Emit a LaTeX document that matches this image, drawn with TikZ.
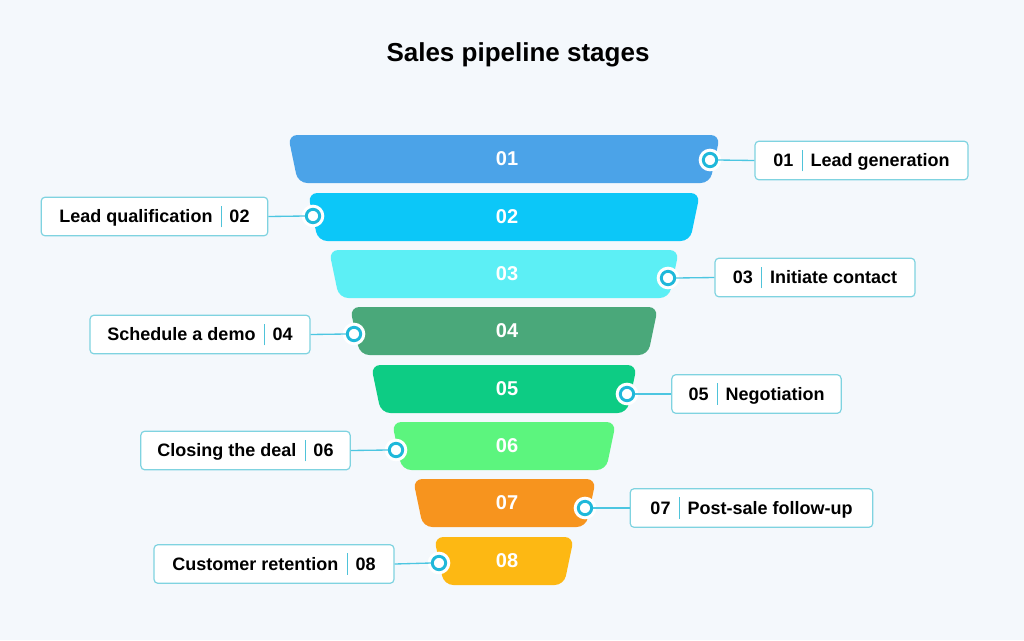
\documentclass[tikz,border=0pt]{standalone}
\usepackage{fontspec}
\setmainfont{Liberation Sans}
\begin{document}
\definecolor{bg}{HTML}{F4F8FC}
\definecolor{ring}{HTML}{1FB8DA}
\definecolor{edge}{HTML}{7FD3E0}
\definecolor{sepc}{HTML}{4FC3D9}
\newcommand{\sepbar}{\hspace{0.45em}{\color{sepc}\rule[-0.25em]{0.6pt}{1.2em}}\hspace{0.45em}}
\begin{tikzpicture}[x=0.75pt,y=-0.75pt,
  stage/.style={rounded corners=7pt},
  num/.style={text=white,font=\bfseries\fontsize{15}{18}\selectfont},
  lab/.style={draw=edge,line width=0.9pt,fill=white,rounded corners=3pt,inner sep=0pt,font=\bfseries\fontsize{13.5}{16}\selectfont},
  link/.style={draw=ring!80,line width=1pt},
  dot/.style={circle,draw=ring,fill=white,line width=2.2pt,minimum size=10pt,inner sep=0pt}]
\fill[bg] (0,0) rectangle (1024,640);
\useasboundingbox (0,0) rectangle (1024,640);
\node (title) at (518,55) {\bfseries\fontsize{19.5}{24}\selectfont Sales pipeline stages};
% stages: ytop, left top, right top, color, number
\foreach \i/\yt/\lt/\rt/\c in {1/135/288/720/4BA3E8,2/193/308/700/0CC7F8,3/250/329/679/5CEFF5,4/307/350/658/4AA87A,5/365/371/637/0DCC84,6/422/392/616/5CF57E,7/479/413/596/F7941E,8/537/434/574/FDB813}{
  \definecolor{sc}{HTML}{\c}
  \fill[sc,stage] (\lt,\yt) -- (\rt,\yt) -- (\rt-10,\yt+48) -- (\lt+10,\yt+48) -- cycle;
  \node[num] (s\i) at (507,\yt+24) {0\i};
}
% labels
\node[lab,minimum width=213pt*0.75/0.75*0.75,minimum height=29pt] (l1) at (861.5,160.5) {01\sepbar Lead generation};
\node[lab,minimum width=170pt,minimum height=29pt] (l2) at (154.5,216.5) {Lead qualification\sepbar 02};
\node[lab,minimum width=150pt,minimum height=29pt] (l3) at (815,277.5) {03\sepbar Initiate contact};
\node[lab,minimum width=165pt,minimum height=29pt] (l4) at (200,334.5) {Schedule a demo\sepbar 04};
\node[lab,minimum width=127pt,minimum height=29pt] (l5) at (756.5,394) {05\sepbar Negotiation};
\node[lab,minimum width=157pt,minimum height=29pt] (l6) at (245.5,450.5) {Closing the deal\sepbar 06};
\node[lab,minimum width=182pt,minimum height=29pt] (l7) at (751.5,508) {07\sepbar Post-sale follow-up};
\node[lab,minimum width=180pt,minimum height=29pt] (l8) at (274,564) {Customer retention\sepbar 08};
% dots
\foreach \n/\x/\y in {1/710/160,2/313/216,3/668/278,4/354/334,5/627/394,6/396/450,7/585/508,8/439/563}{
  \fill[white] (\x,\y) circle (8.5pt);
  \node[dot] (d\n) at (\x,\y) {};
}
\foreach \n in {1,3,5,7}{\draw[link] (d\n.east) -- (l\n.west);}
\foreach \n in {2,4,6,8}{\draw[link] (d\n.west) -- (l\n.east);}
\end{tikzpicture}
\end{document}
